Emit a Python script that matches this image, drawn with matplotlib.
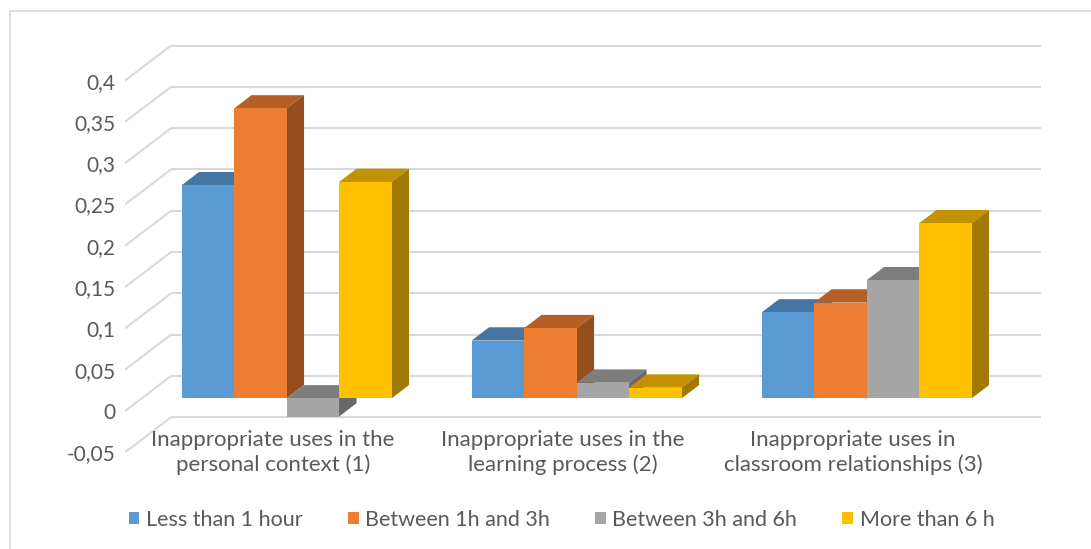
import numpy as np
import matplotlib.pyplot as plt
from matplotlib.patches import Polygon, Patch, Rectangle

plt.rcParams['font.family'] = ['Lato', 'DejaVu Sans']

# data
categories = ["Inappropriate uses in the\npersonal context (1)",
              "Inappropriate uses in the\nlearning process (2)",
              "Inappropriate uses in\nclassroom relationships (3)"]
series = ["Less than 1 hour", "Between 1h and 3h", "Between 3h and 6h", "More than 6 h"]
less_1h = [0.258, 0.070, 0.104]
from_1_to_3h = [0.351, 0.085, 0.116]
from_3_to_6h = [-0.022, 0.019, 0.143]
more_6h = [0.262, 0.013, 0.212]
yticks = [-0.05, 0, 0.05, 0.1, 0.15, 0.2, 0.25, 0.3, 0.35, 0.4]
ytick_labels = ["-0,05", "0", "0,05", "0,1", "0,15", "0,2", "0,25", "0,3", "0,35", "0,4"]

colors = ["#5B9BD5", "#ED7D31", "#A5A5A5", "#FFC000"]
values = [less_1h, from_1_to_3h, from_3_to_6h, more_6h]

def shade(c, f):
    r, g, b = [int(c[k:k + 2], 16) for k in (1, 3, 5)]
    return (r * f / 255, g * f / 255, b * f / 255)

# oblique projection of depth (z in 0..1) into data units
DX = 46 / 290
DY = 35 / 826
Z0, Z1 = 0.36, 0.74
bw = 0.181

W, H = 1091, 549
fig = plt.figure(figsize=(W / 100, H / 100), dpi=100)
ax_left, ax_right = 125, 125 + 3.2 * 290
ylo, yhi = -0.06, 0.45
ptop = 411 - yhi * 826
pbot = 411 - ylo * 826
ax = fig.add_axes([ax_left / W, (H - pbot) / H, (ax_right - ax_left) / W, (pbot - ptop) / H])
ax.set_xlim(-0.5, 2.7)
ax.set_ylim(ylo, yhi)
for s in ax.spines.values():
    s.set_visible(False)
ax.set_xticks([])
ax.set_yticks(yticks)
ax.set_yticklabels(ytick_labels, fontsize=15, color="#595959")
ax.tick_params(axis='y', length=0, pad=7)

# gridlines: side wall + back wall
grid_c = "#d9d9d9"
for t in yticks:
    ax.plot([-0.5, -0.5 + DX], [t, t + DY], color=grid_c, lw=1.5, zorder=1, solid_capstyle='butt')
    ax.plot([-0.5 + DX, 2.5 + DX], [t + DY, t + DY], color=grid_c, lw=1.5, zorder=1, solid_capstyle='butt')

# bars
for i in range(len(categories)):
    for j, vals in enumerate(values):
        v = vals[i]
        c = colors[j]
        x0 = i - 2 * bw + j * bw + Z0 * DX
        y0 = Z0 * DY
        ddx = (Z1 - Z0) * DX
        ddy = (Z1 - Z0) * DY
        top = max(v, 0)
        bot = min(v, 0)
        ax.add_patch(Polygon([(x0, top + y0), (x0 + bw, top + y0), (x0 + bw + ddx, top + y0 + ddy),
                              (x0 + ddx, top + y0 + ddy)], closed=True, fc=shade(c, 0.76), ec='none', zorder=2))
        ax.add_patch(Polygon([(x0 + bw, bot + y0), (x0 + bw + ddx, bot + y0 + ddy),
                              (x0 + bw + ddx, top + y0 + ddy), (x0 + bw, top + y0)],
                             closed=True, fc=shade(c, 0.63), ec='none', zorder=2))
        ax.bar(x0, v, width=bw, bottom=y0, align='edge', color=c, zorder=3, linewidth=0)

# category labels
for i, lab in enumerate(categories):
    ax.text(i + 0.01, -0.0235, lab, ha='center', va='top', fontsize=16, color="#595959",
            linespacing=1.27, clip_on=False)

handles = [Patch(facecolor=c, edgecolor='none') for c in colors]
fig.legend(handles, series, loc='center', bbox_to_anchor=(0.5147, 1 - 520 / H), ncol=4, frameon=False,
           fontsize=15.5, labelcolor="#595959", handlelength=0.5, handleheight=0.5, handletextpad=0.3,
           columnspacing=2.1)

fig.patches.append(Rectangle((9.5 / W, -0.05), 1.2, 1.05 - 10.5 / H, transform=fig.transFigure,
                             fill=False, ec="#d9d9d9", lw=1.2))

fig.savefig("out.png", dpi=100)
